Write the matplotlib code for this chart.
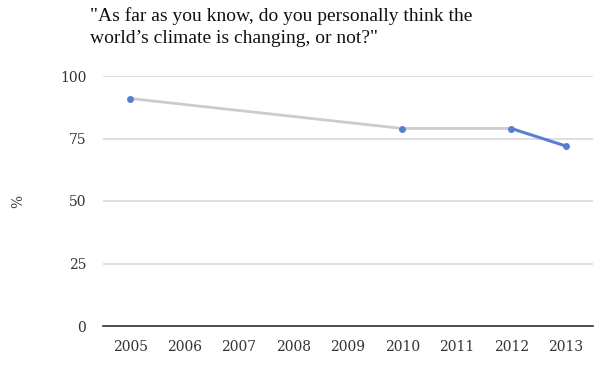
import matplotlib.pyplot as plt

# survey results
years = ['2005', '2006', '2007', '2008', '2009', '2010', '2011', '2012', '2013']
obs_years = ['2005', '2010', '2012', '2013']
pct = [91, 79, 79, 72]

plt.rcParams['font.family'] = 'DejaVu Serif'

fig = plt.figure(figsize=(6, 3.68), dpi=100)
ax = fig.add_axes([103/600, 1 - 326/368, 490/600, 250/368])

xs = [years.index(y) for y in obs_years]
# grey trend up to 2012, blue for the last step
ax.plot(xs[:-1], pct[:-1], color='#cccccc', lw=2, zorder=3)
ax.plot(xs[-2:], pct[-2:], color='#5b7fd0', lw=2.2, zorder=4)
ax.plot(xs, pct, 'o', color='#5b7fd0', ms=4, zorder=5)

ax.set_xlim(-0.5, len(years) - 0.5)
ax.set_ylim(0, 100)
ax.set_xticks(range(len(years)))
ax.set_xticklabels(years)
ax.set_yticks([0, 25, 50, 75, 100])

ax.grid(axis='y', color='#d9d9d9', lw=1.2)
ax.set_axisbelow(True)
for s in ['top', 'right', 'left']:
    ax.spines[s].set_visible(False)
ax.spines['bottom'].set_color('#333333')
ax.spines['bottom'].set_linewidth(1.2)
ax.tick_params(length=0, labelsize=10, labelcolor='#333333')
ax.tick_params(axis='x', pad=10)
ax.tick_params(axis='y', pad=12)

fig.text(18/600, 1 - 201/368, '%', rotation=90, ha='center', va='center',
         fontsize=10, color='#444444')
fig.text(90/600, 1 - 7/368,
         '"As far as you know, do you personally think the\nworld\u2019s climate is changing, or not?"',
         ha='left', va='top', fontsize=14, color='#111111', linespacing=1.4,
         family='Liberation Serif')

fig.savefig('out.png', dpi=100)
